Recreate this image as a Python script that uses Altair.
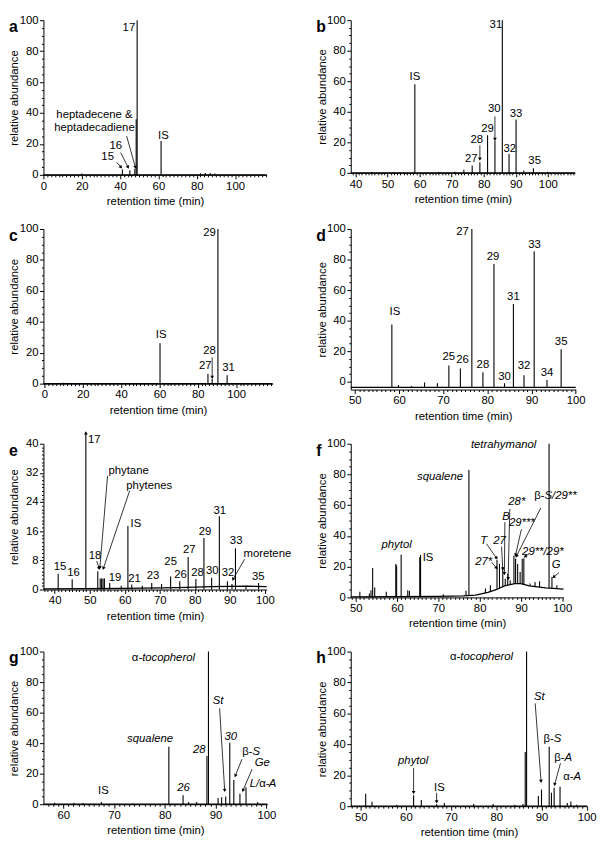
import math
import altair as alt
import pandas as pd

FONT = "Liberation Sans"

# ---------------- panel a ----------------
A_RT = [20.0, 41.2, 45.1, 47.7, 48.4, 48.9, 61.4, 82.0, 84.5, 87.0, 89.5]
A_AB = [0.8, 3.4, 3.0, 4.0, 36.0, 100.0, 21.9, 1.0, 1.2, 1.2, 0.8]
A_BASE_RT = [0.0, 116.5]
A_BASE_AB = [0.0, 0.0]
A_LAB_UP = [("17", 44.6, 95.1), ("IS", 62.6, 25.0), ("15", 33.5, 11.3), ("16", 37.7, 18.7),
            ("heptadecene &", 26.6, 38.9), ("heptadecadiene", 26.6, 30.4)]
A_ARROWS = [(38.2, 8.1, 40.5, 4.9), (40.3, 14.4, 44.2, 4.9), (43.4, 25.1, 48.0, 4.9)]

# ---------------- panel b ----------------
B_RT = [45.0, 52.0, 58.5, 66.0, 71.0, 73.8, 76.4, 78.8, 81.2, 83.5, 85.8, 87.9, 90.1, 92.5, 95.5, 100.0]
B_AB = [0.5, 0.5, 58.0, 0.6, 0.8, 2.0, 4.9, 7.0, 24.7, 21.0, 100.0, 12.4, 35.0, 1.5, 3.0, 0.8]
B_BASE_RT = [38.5, 108.5]
B_BASE_AB = [0.0, 0.0]
B_LAB_UP = [("IS", 58.5, 62.5), ("27", 76.1, 8.8), ("28", 77.8, 21.5), ("29", 81.2, 29.0),
            ("30", 83.3, 41.5), ("31", 83.8, 97.0), ("32", 88.1, 15.7), ("33", 90.1, 38.5),
            ("35", 95.9, 8.0)]
B_ARROWS = [(78.8, 18.0, 78.8, 9.0), (83.5, 37.0, 83.5, 22.0)]

# ---------------- panel c ----------------
C_RT = [10.0, 30.0, 50.0, 60.3, 85.3, 87.5, 90.5, 95.3]
C_AB = [0.6, 0.4, 0.4, 26.1, 6.4, 3.0, 100.0, 5.5]
C_BASE_RT = [-0.5, 119.0]
C_BASE_AB = [0.0, 0.0]
C_LAB_UP = [("IS", 60.9, 31.4), ("27", 83.9, 11.3), ("28", 86.1, 21.2), ("29", 86.1, 97.2),
            ("31", 96.0, 9.8)]
C_ARROWS = [(87.5, 17.0, 87.5, 4.0)]

# ---------------- panel d ----------------
D_RT = [58.4, 59.9, 62.8, 65.8, 68.7, 71.3, 73.9, 76.5, 79.0, 81.5, 83.9, 85.9, 88.3, 90.6, 93.5, 96.7]
D_AB = [37.6, -2.0, -2.6, -0.4, -0.9, 10.7, 8.8, 100.0, 6.4, 77.1, -0.9, 50.9, 4.3, 85.5, 1.3, 21.4]
D_BASE_RT = [49.1, 100.0]
D_BASE_AB = [-3.6, -3.6]
D_LAB_UP = [("IS", 59.1, 46.0), ("25", 71.3, 16.0), ("26", 74.4, 14.1), ("27", 74.4, 97.9),
            ("28", 79.0, 11.0), ("29", 81.3, 81.4), ("30", 83.9, 3.2), ("31", 85.9, 55.5),
            ("32", 88.3, 10.3), ("33", 90.7, 89.7), ("34", 93.5, 6.0), ("35", 96.7, 25.9)]
D_ARROWS = []

# ---------------- panel e ----------------
E_RT = [41.0, 45.0, 48.9, 52.3, 53.0, 53.4, 53.8, 54.2, 55.7, 59.0, 60.9, 62.0, 65.0, 67.7, 70.5,
        73.1, 75.7, 78.1, 80.3, 82.6, 84.8, 87.0, 89.3, 90.6, 91.6, 94.6, 98.2]
E_AB = [4.3, 2.8, 43.0, 5.0, 3.0, 3.0, 3.0, 3.0, 1.8, 1.0, 17.4, 1.4, 1.0, 1.8, 1.5,
        3.6, 2.3, 8.9, 2.9, 14.1, 3.2, 20.1, 2.3, 1.5, 11.3, 1.0, 1.8]
E_BASE_RT = [36.8, 60.0, 75.0, 85.0, 95.0, 100.5]
E_BASE_AB = [0.2, 0.3, 0.5, 0.8, 0.9, 0.8]
E_LAB_UP = [("17", 51.3, 41.0), ("phytane", 61.1, 32.6), ("phytenes", 67.0, 28.4), ("IS", 63.2, 17.9),
            ("15", 41.5, 6.1), ("16", 45.4, 4.4), ("18", 51.5, 9.2), ("19", 57.2, 3.2),
            ("21", 62.8, 3.0), ("23", 68.1, 3.7), ("25", 73.1, 7.6), ("26", 75.9, 3.9),
            ("27", 78.4, 10.7), ("28", 80.8, 4.4), ("29", 82.9, 15.9), ("30", 85.0, 5.0),
            ("31", 87.1, 21.6), ("32", 89.5, 4.4), ("33", 91.8, 13.3), ("moretene", 100.7, 9.6),
            ("35", 98.1, 3.4)]
E_ARROWS = [(55.1, 31.2, 52.9, 6.0), (61.4, 27.1, 53.9, 5.8), (52.0, 7.8, 52.7, 5.8),
            (94.2, 8.3, 90.9, 2.8)]
E_OFFSCALE = [(48.9, 43.0)]

# ---------------- panel f ----------------
F_RT = [51.0, 53.3, 53.7, 54.1, 54.6, 57.4, 59.7, 59.9, 61.0, 62.6, 63.0, 65.5, 65.7, 71.2, 76.7,
        77.4, 81.4, 82.6, 84.2, 84.8, 85.6, 86.2, 86.8, 87.4, 88.3, 88.7, 89.2, 89.8, 90.3, 90.7,
        92.2, 93.4, 94.5, 96.8, 97.5, 98.7]
F_AB = [3.6, 2.6, 4.7, 19.1, 6.4, 3.6, 21.8, 20.8, 27.8, 4.7, 4.1, 26.1, 27.6, 2.1, 4.3,
        82.9, 5.8, 7.9, 24.4, 21.8, 19.7, 12.2, 15.4, 11.0, 27.2, 25.1, 21.8, 16.5, 25.1, 25.5,
        9.0, 10.0, 10.5, 100.0, 13.3, 7.9]
F_BASE_RT = [48.8, 70.0, 76.0, 79.0, 82.0, 84.0, 86.0, 88.5, 90.0, 92.0, 96.0, 100.3]
F_BASE_AB = [0.4, 0.6, 1.0, 1.5, 3.2, 5.0, 7.5, 9.0, 9.0, 7.5, 6.2, 5.4]
F_LAB_UP = [("IS", 67.5, 25.5)]
F_LAB_IT = [("tetrahymanol", 85.8, 98.9), ("squalene", 70.4, 78.6), ("phytol", 59.9, 34.3),
            ("28*", 89.0, 61.9), ("B", 86.4, 52.5), ("29***", 90.2, 48.2), ("T", 81.0, 36.8),
            ("27", 84.8, 36.4), ("27*", 81.0, 22.9), ("29**/29*", 95.3, 29.8), ("G", 98.5, 20.8)]
F_LAB_UP_R = [("β-", 95.7, 66.2)]
F_LAB_IT_L = [("S/29**", 95.7, 66.2)]
F_ARROWS = [(81.7, 34.7, 84.1, 25.5), (82.9, 22.9, 84.1, 19.1), (85.3, 33.0, 85.6, 18.5),
            (86.1, 49.0, 86.0, 15.5), (87.3, 57.6, 86.9, 12.2), (90.1, 44.3, 88.7, 27.6),
            (94.8, 58.2, 88.9, 26.8), (92.0, 28.5, 91.0, 26.5), (99.2, 16.1, 97.9, 13.3)]

# ---------------- panel g ----------------
G_RT = [58.3, 62.1, 63.9, 67.5, 73.7, 80.8, 83.6, 84.7, 86.3, 88.3, 88.6, 90.5, 91.2, 92.0, 92.8,
        93.6, 94.8, 96.0, 98.3]
G_AB = [1.0, 1.0, 0.8, 1.5, 0.5, 37.6, 5.8, 1.5, 1.5, 31.6, 100.0, 4.0, 4.5, 5.0, 40.2,
        15.9, 6.9, 11.2, 1.5]
G_BASE_RT = [56.1, 100.2]
G_BASE_AB = [0.0, 0.0]
G_LAB_UP = [("IS", 67.9, 8.6)]
G_LAB_IT = [("squalene", 77.1, 42.8), ("28", 86.8, 35.5), ("26", 83.7, 10.5), ("St", 90.5, 67.5),
            ("30", 93.0, 43.9), ("Ge", 99.2, 26.7)]
G_LAB_UP_R = [("α", 74.8, 95.5), ("β-", 97.3, 34.2)]
G_LAB_IT_L = [("-tocopherol", 74.8, 95.5), ("S", 97.3, 34.2), ("A", 100.5, 13.3)]
G_LAB_IT_R = [("L/", 98.6, 13.3)]
G_LAB_UP_L = [("α-", 98.6, 13.3)]
G_ARROWS = [(90.8, 62.8, 91.8, 9.0), (95.2, 29.5, 93.9, 18.7), (97.2, 23.0, 95.4, 9.0)]

# ---------------- panel h ----------------
H_RT = [51.1, 52.5, 58.0, 61.7, 63.4, 66.8, 68.5, 75.0, 79.3, 84.1, 85.9, 86.4, 86.7, 89.3, 90.0,
        91.7, 92.2, 92.8, 94.1, 95.7, 96.5, 97.8]
H_AB = [8.1, 2.8, 1.0, 7.0, 4.0, 1.3, 2.0, 1.5, 1.5, 1.0, 1.5, 35.0, 100.0, 6.6, 10.8,
        38.4, 8.7, 12.0, 12.5, 2.0, 3.0, 1.0]
H_BASE_RT = [47.8, 100.1]
H_BASE_AB = [0.0, 0.0]
H_LAB_UP = [("IS", 67.4, 11.9)]
H_LAB_IT = [("St", 89.5, 70.7), ("phytol", 61.6, 28.9)]
H_LAB_UP_R = [("α", 71.2, 96.4), ("β-", 92.7, 43.7), ("β-", 95.1, 31.0), ("α-", 97.1, 18.9)]
H_LAB_IT_L = [("-tocopherol", 71.2, 96.4), ("S", 92.7, 43.7), ("A", 95.1, 31.0), ("A", 97.1, 18.9)]
H_ARROWS = [(61.7, 24.6, 61.7, 8.8), (66.8, 8.7, 66.8, 2.8), (88.6, 66.5, 89.9, 16.1),
            (94.2, 27.8, 92.9, 14.0)]

STYLES = {"up": ("normal", "center"), "it": ("italic", "center"),
          "up_r": ("normal", "right"), "up_l": ("normal", "left"),
          "it_l": ("italic", "left"), "it_r": ("italic", "right")}

FS = 11.5


def ticks(lo, hi, step):
    out = []
    v = math.ceil(lo / step - 1e-9) * step
    while v <= hi + 1e-9:
        out.append(int(round(v)))
        v += step
    return out


def make_axis(title, vals, major, is_y):
    kw = dict(
        title=title, values=vals,
        labelExpr=f"datum.value % {major} === 0 ? datum.label : ''",
        tickSize={"condition": {"test": f"datum.value % {major} === 0", "value": 4}, "value": 2},
        labelOverlap=False, labelFlush=False, grid=False,
        domainColor="black", domainWidth=1, tickColor="black", tickWidth=1,
        labelColor="black", titleColor="black", labelFont=FONT, titleFont=FONT,
        labelFontSize=FS, titleFontSize=FS, titleFontWeight="normal",
        labelPadding=1.5, zindex=1,
    )
    if is_y:
        kw["titleX"] = -24
    else:
        kw["titlePadding"] = 4
    return alt.Axis(**kw)


def panel(letter, rt, ab, base_rt, base_ab, labels, arrows, xdom, ydom, w, h,
          xstep, xmaj, ystep, ymaj, pbase=0.0, fill=False, offscale=None):
    xax = make_axis("retention time (min)", ticks(xdom[0], xdom[1], xstep), xmaj, False)
    yax = make_axis("relative abundance", ticks(max(ydom[0], 0), ydom[1], ystep), ymaj, True)
    xs = alt.Scale(domain=list(xdom), nice=False, zero=False)
    ys = alt.Scale(domain=list(ydom), nice=False, zero=False)

    def X(f):
        return alt.X(f"{f}:Q", scale=xs, axis=xax)

    def Y(f):
        return alt.Y(f"{f}:Q", scale=ys, axis=yax)

    layers = []
    pk = pd.DataFrame({"x": rt, "y": ab})
    pk["b"] = pbase
    layers.append(alt.Chart(pk).mark_rule(color="black", strokeWidth=1.1)
                  .encode(x=X("x"), y=Y("y"), y2=alt.Y2("b")))
    bl = pd.DataFrame({"x": base_rt, "y": base_ab})
    if fill:
        bl["z"] = 0.0
        layers.append(alt.Chart(bl).mark_area(color="white", opacity=1)
                      .encode(x=X("x"), y=Y("y"), y2=alt.Y2("z")))
    layers.append(alt.Chart(bl).mark_line(color="black", strokeWidth=1.3)
                  .encode(x=X("x"), y=Y("y")))

    sx = w / (xdom[1] - xdom[0])
    sy = h / (ydom[1] - ydom[0])
    heads = []
    if arrows:
        ar = pd.DataFrame(arrows, columns=["x", "y", "x2", "y2"])
        layers.append(alt.Chart(ar).mark_rule(color="black", strokeWidth=0.8)
                      .encode(x=X("x"), y=Y("y"), x2=alt.X2("x2"), y2=alt.Y2("y2")))
        for x1, y1, x2, y2 in arrows:
            ang = math.degrees(math.atan2((x2 - x1) * sx, (y2 - y1) * sy)) % 360
            heads.append((x2, y2, ang))
    if offscale:
        for x, y in offscale:
            heads.append((x, y, 0.0))
    if heads:
        hd = pd.DataFrame(heads, columns=["x", "y", "a"])
        layers.append(alt.Chart(hd).mark_point(shape="triangle-up", filled=True, size=14,
                                               color="black", opacity=1, strokeWidth=0)
                      .encode(x=X("x"), y=Y("y"), angle=alt.Angle("a:Q", scale=None)))

    for key, items in labels.items():
        if not items:
            continue
        style, align = STYLES[key]
        ld = pd.DataFrame(items, columns=["t", "x", "y"])
        layers.append(alt.Chart(ld).mark_text(font=FONT, fontSize=FS, fontStyle=style,
                                              align=align, baseline="middle", color="black")
                      .encode(x=X("x"), y=Y("y"), text="t:N"))

    layers.append(alt.Chart(pd.DataFrame({"t": [letter]}))
                  .mark_text(font=FONT, fontSize=16, fontWeight="bold", align="left",
                             baseline="middle", color="black")
                  .encode(x=alt.value(-35), y=alt.value(7), text="t:N"))
    return alt.layer(*layers).properties(width=w, height=h)


pa = panel("a", A_RT, A_AB, A_BASE_RT, A_BASE_AB, {"up": A_LAB_UP}, A_ARROWS,
           (0, 116.5), (0, 100), 226.6, 157, 2, 20, 5, 20)
pb = panel("b", B_RT, B_AB, B_BASE_RT, B_BASE_AB, {"up": B_LAB_UP}, B_ARROWS,
           (38.5, 108.5), (0, 100), 227.7, 155, 1, 10, 5, 20)
pc = panel("c", C_RT, C_AB, C_BASE_RT, C_BASE_AB, {"up": C_LAB_UP}, C_ARROWS,
           (-0.5, 119.0), (0, 100), 232.6, 157, 2, 20, 5, 20)
pd_ = panel("d", D_RT, D_AB, D_BASE_RT, D_BASE_AB, {"up": D_LAB_UP}, D_ARROWS,
            (49.1, 100.0), (-5, 100), 228.4, 163, 1, 10, 5, 20, pbase=-3.6)
pe = panel("e", E_RT, E_AB, E_BASE_RT, E_BASE_AB, {"up": E_LAB_UP}, E_ARROWS,
           (36.8, 100.5), (0, 40), 226.6, 148, 1, 10, 1, 8, offscale=E_OFFSCALE)
pf = panel("f", F_RT, F_AB, F_BASE_RT, F_BASE_AB,
           {"up": F_LAB_UP, "it": F_LAB_IT, "up_r": F_LAB_UP_R, "it_l": F_LAB_IT_L}, F_ARROWS,
           (48.8, 100.3), (0, 100), 216.0, 156, 1, 10, 5, 20, fill=True)
pg = panel("g", G_RT, G_AB, G_BASE_RT, G_BASE_AB,
           {"up": G_LAB_UP, "it": G_LAB_IT, "up_r": G_LAB_UP_R, "it_l": G_LAB_IT_L,
            "it_r": G_LAB_IT_R, "up_l": G_LAB_UP_L}, G_ARROWS,
           (56.1, 100.2), (0, 100), 227.3, 155, 1, 10, 5, 20)
ph = panel("h", H_RT, H_AB, H_BASE_RT, H_BASE_AB,
           {"up": H_LAB_UP, "it": H_LAB_IT, "up_r": H_LAB_UP_R, "it_l": H_LAB_IT_L}, H_ARROWS,
           (47.8, 100.1), (0, 100), 240.0, 157, 1, 10, 5, 20)

chart = alt.concat(pa, pb, pc, pd_, pe, pf, pg, ph, columns=2,
                   spacing={"row": 55, "column": 79}, bounds="flush")
chart = chart.properties(padding=0).configure_view(stroke=None)

chart.save("out.html", embed_options={"renderer": "svg", "actions": False})
